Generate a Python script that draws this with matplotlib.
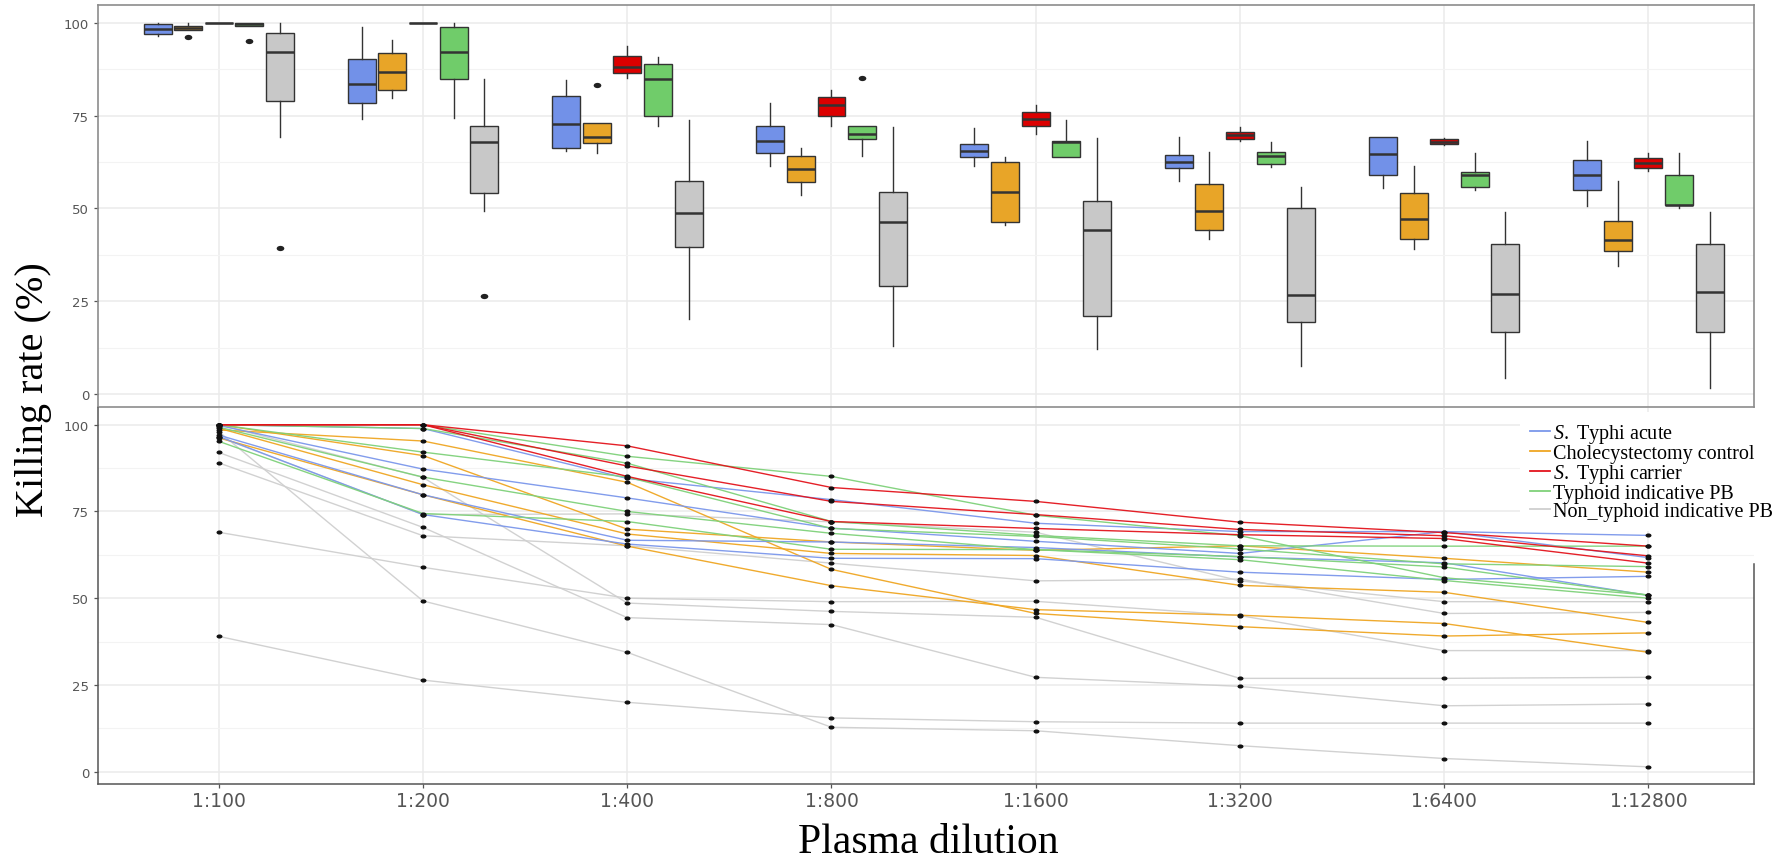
import matplotlib
matplotlib.use("Agg")
import matplotlib.pyplot as plt
from matplotlib.path import Path
from matplotlib.transforms import Affine2D
from matplotlib.lines import Line2D
import numpy as np

plt.rcParams["mathtext.fontset"] = "custom"
plt.rcParams["mathtext.it"] = "Liberation Serif:italic"
plt.rcParams["mathtext.rm"] = "Liberation Serif"

# ---------------- data ----------------
dilutions = ["1:100", "1:200", "1:400", "1:800", "1:1600", "1:3200", "1:6400", "1:12800"]
group_labels = [r"$\mathit{S.}$ Typhi acute", "Cholecystectomy control",
                r"$\mathit{S.}$ Typhi carrier", "Typhoid indicative PB",
                "Non_typhoid indicative PB"]
box_colors = ["#7291E8", "#E8A528", "#DC0000", "#70CC6A", "#C8C8C8"]
line_colors = ["#7B97EB", "#EFA623", "#E3141C", "#7FD17A", "#CFCFCF"]

# boxplot summaries (top panel), one value per dilution
acute_q1 = [96.9, 78.4, 66.4, 65.0, 63.8, 60.8, 59.1, 54.9]
acute_med = [98.4, 83.6, 72.8, 68.2, 65.5, 62.4, 64.7, 59.0]
acute_q3 = [99.7, 90.2, 80.4, 72.3, 67.5, 64.5, 69.2, 63.2]
acute_lo = [96.6, 74.1, 65.6, 61.5, 61.4, 57.5, 55.4, 50.8]
acute_hi = [100, 98.9, 84.5, 78.4, 71.6, 69.2, 69.2, 68.1]
acute_out = [[], [], [], [], [], [], [], []]

chole_q1 = [98.2, 82.0, 67.6, 57.1, 46.4, 44.3, 41.8, 38.5]
chole_med = [98.65, 86.9, 69.2, 60.6, 54.5, 49.4, 47.2, 41.5]
chole_q3 = [99.3, 92.0, 73.0, 64.1, 62.6, 56.6, 54.2, 46.5]
chole_lo = [98.2, 79.8, 65.0, 53.6, 45.6, 41.8, 39.1, 34.4]
chole_hi = [100, 95.3, 73.0, 66.2, 63.8, 65.1, 61.5, 57.5]
chole_out = [[96.2], [], [83.4], [], [], [], [], []]

carrier_q1 = [100, 100, 86.5, 75.0, 72.1, 68.6, 67.4, 61.0]
carrier_med = [100, 100, 88.1, 77.9, 74.1, 69.8, 68.0, 62.2]
carrier_q3 = [100, 100, 91.0, 80.1, 75.9, 70.7, 68.6, 63.5]
carrier_lo = [100, 100, 85.1, 72.1, 70.1, 68.3, 67.2, 60.1]
carrier_hi = [100, 100, 93.9, 81.9, 77.9, 71.9, 68.9, 65.0]
carrier_out = [[], [], [], [], [], [], [], []]

tipb_q1 = [99.3, 84.9, 75.0, 68.7, 64.0, 62.0, 55.9, 50.9]
tipb_med = [99.8, 92.1, 84.9, 70.1, 67.8, 64.2, 59.0, 50.9]
tipb_q3 = [100, 98.9, 88.9, 72.1, 68.1, 65.1, 59.9, 59.1]
tipb_lo = [99.3, 74.4, 72.1, 64.1, 64.0, 61.1, 55.1, 50.0]
tipb_hi = [100, 100, 90.9, 72.1, 73.9, 68.0, 65.0, 65.0]
tipb_out = [[95.2], [], [], [85.1], [], [], [], []]

ntpb_q1 = [79.0, 54.2, 39.5, 29.0, 20.9, 19.3, 16.6, 16.8]
ntpb_med = [92.1, 68.0, 48.7, 46.3, 44.3, 26.8, 27.0, 27.4]
ntpb_q3 = [97.3, 72.3, 57.5, 54.5, 52.0, 50.0, 40.3, 40.4]
ntpb_lo = [69.2, 49.4, 20.2, 13.0, 12.0, 7.6, 4.2, 1.5]
ntpb_hi = [100, 84.9, 73.9, 71.9, 68.9, 55.7, 49.0, 49.0]
ntpb_out = [[39.3], [26.5], [], [], [], [], [], []]

# individual trajectories (bottom panel)
acute_lines = [
    [100, 98.9, 84.5, 78.4, 71.6, 69.2, 69.2, 68.1],
    [99.8, 87.2, 78.9, 70.2, 66.4, 62.9, 69.2, 61.7],
    [97.0, 79.8, 66.7, 66.2, 64.6, 61.9, 60.2, 50.8],
    [96.6, 74.1, 65.6, 61.5, 61.4, 57.5, 55.4, 56.3],
]
chole_lines = [
    [100, 91.1, 69.9, 66.2, 63.8, 65.1, 61.5, 57.5],
    [99.0, 82.7, 68.5, 62.9, 62.3, 53.7, 51.7, 43.0],
    [98.5, 95.3, 83.4, 58.3, 45.6, 41.8, 39.1, 40.0],
    [96.2, 79.8, 65.0, 53.6, 46.7, 45.1, 42.7, 34.4],
]
carrier_lines = [
    [100, 100, 93.9, 81.9, 77.9, 71.9, 68.9, 65.0],
    [100, 100, 88.1, 77.9, 74.1, 69.8, 68.0, 62.2],
    [100, 100, 85.1, 72.1, 70.1, 68.3, 67.2, 60.1],
]
tipb_lines = [
    [100, 100, 90.9, 85.1, 73.9, 68.0, 55.9, 50.9],
    [100, 98.9, 88.9, 72.1, 68.1, 65.1, 65.0, 65.0],
    [100, 92.1, 84.9, 70.1, 67.8, 64.2, 59.9, 59.1],
    [99.3, 84.9, 75.0, 68.7, 64.0, 62.0, 59.0, 50.9],
    [95.2, 74.4, 72.1, 64.1, 64.0, 61.1, 55.1, 50.0],
]
ntpb_lines = [
    [39, 26.4, 20.0, 15.5, 14.4, 14.0, 14.0, 14.0],
    [98, 49.2, 34.4, 12.8, 11.8, 7.5, 3.8, 1.4],
    [69, 58.9, 50.0, 49.0, 49.1, 45.0, 34.9, 34.9],
    [100, 84.8, 48.6, 46.2, 44.5, 26.9, 26.9, 27.2],
    [92, 70.4, 44.4, 42.4, 27.2, 24.6, 19.0, 19.5],
    [89, 68.0, 65.1, 60.1, 55.0, 55.5, 45.6, 45.9],
    [96.5, 74.1, 74.3, 72.0, 69.0, 55.0, 49.0, 49.0],
]

# ---------------- layout ----------------
W, H = 1785, 862
fig = plt.figure(figsize=(W / 100, H / 100), dpi=100)
L, R = 97.5, 1754
ax_top = fig.add_axes([L / W, 1 - 407.6 / H, (R - L) / W, (407.6 - 5.8) / H])
ax_bot = fig.add_axes([L / W, 1 - 784.5 / H, (R - L) / W, (784.5 - 408.7) / H])

xpos = np.arange(1, len(dilutions) + 1)
ellipse = Path.unit_circle().transformed(Affine2D().scale(1.45, 1.0))

for ax in (ax_top, ax_bot):
    ax.set_xlim(0.406, 8.517)
    ax.set_ylim(-3.4, 104.9)
    ax.set_yticks([0, 25, 50, 75, 100])
    ax.set_yticks([12.5, 37.5, 62.5, 87.5], minor=True)
    ax.set_xticks(xpos)
    ax.set_axisbelow(True)
    ax.grid(which="major", color="#EBEBEB", lw=1.1)
    ax.grid(which="minor", axis="y", color="#F3F3F3", lw=0.8)
    ax.tick_params(axis="y", which="major", length=3, width=0.9, color="#555555",
                   labelsize=9.5, labelcolor="#555555", pad=3)
    ax.tick_params(axis="y", which="minor", length=0)

# ---------------- top: boxplots ----------------
box_sets = [
    (acute_q1, acute_med, acute_q3, acute_lo, acute_hi, acute_out),
    (chole_q1, chole_med, chole_q3, chole_lo, chole_hi, chole_out),
    (carrier_q1, carrier_med, carrier_q3, carrier_lo, carrier_hi, carrier_out),
    (tipb_q1, tipb_med, tipb_q3, tipb_lo, tipb_hi, tipb_out),
    (ntpb_q1, ntpb_med, ntpb_q3, ntpb_lo, ntpb_hi, ntpb_out),
]
offsets = [-0.3, -0.15, 0.0, 0.15, 0.3]
for gi, (q1, med, q3, lo, hi, out) in enumerate(box_sets):
    stats = [dict(q1=q1[i], med=med[i], q3=q3[i], whislo=lo[i], whishi=hi[i],
                  fliers=out[i]) for i in range(len(dilutions))]
    ax_top.bxp(stats, positions=xpos + offsets[gi], widths=0.137, patch_artist=True,
               showcaps=False, manage_ticks=False,
               boxprops=dict(facecolor=box_colors[gi], edgecolor="#333333", linewidth=1.0),
               medianprops=dict(color="#333333", linewidth=1.8),
               whiskerprops=dict(color="#333333", linewidth=1.0),
               flierprops=dict(marker=ellipse, markerfacecolor="#222222",
                               markeredgecolor="none", markersize=5.5))

ax_top.tick_params(axis="x", length=0, labelbottom=False)
for s in ax_top.spines.values():
    s.set_color("#8C8C8C")
    s.set_linewidth(1.2)

# ---------------- bottom: trajectories ----------------
line_sets = [ntpb_lines, chole_lines, acute_lines, tipb_lines, carrier_lines]
line_cols = [line_colors[4], line_colors[1], line_colors[0], line_colors[3], line_colors[2]]
for lines, col in zip(line_sets, line_cols):
    for ys in lines:
        ax_bot.plot(xpos, ys, color=col, lw=1.0, alpha=0.95, zorder=2)
for lines in line_sets:
    for ys in lines:
        ax_bot.plot(xpos, ys, linestyle="none", marker=ellipse, markersize=4.3,
                    markerfacecolor="#111111", markeredgecolor="none", zorder=3)

ax_bot.set_xticklabels(dilutions)
ax_bot.tick_params(axis="x", length=3, width=0.9, color="#555555",
                   labelsize=13.5, labelcolor="#555555", pad=2.5)
ax_bot.spines["top"].set_visible(False)
for k in ("left", "bottom", "right"):
    ax_bot.spines[k].set_color("#555555")
    ax_bot.spines[k].set_linewidth(1.1)
ax_bot.spines["right"].set_bounds(-3.4, 60)

# ---------------- labels & legend ----------------
fig.text(34 / W, 1 - 390 / H, "Killing rate (%)", rotation=90, ha="center", va="center",
         fontsize=29, family="Liberation Serif")
fig.text(928 / W, 1 - 853 / H, "Plasma dilution", ha="center", va="baseline",
         fontsize=30, family="Liberation Serif")

handles = [Line2D([0], [0], color=c, lw=1.3) for c in line_colors]
fig.legend(handles, group_labels, loc="upper left",
           bbox_to_anchor=(1520 / W, 1 - 413 / H), bbox_transform=fig.transFigure,
           frameon=True, facecolor="white", edgecolor="none", framealpha=1,
           fancybox=False, borderpad=0.5, borderaxespad=0, handlelength=1.0,
           handletextpad=0.15, labelspacing=-0.05,
           prop=dict(family="Liberation Serif", size=14.5))

fig.savefig("out.png", dpi=100)
